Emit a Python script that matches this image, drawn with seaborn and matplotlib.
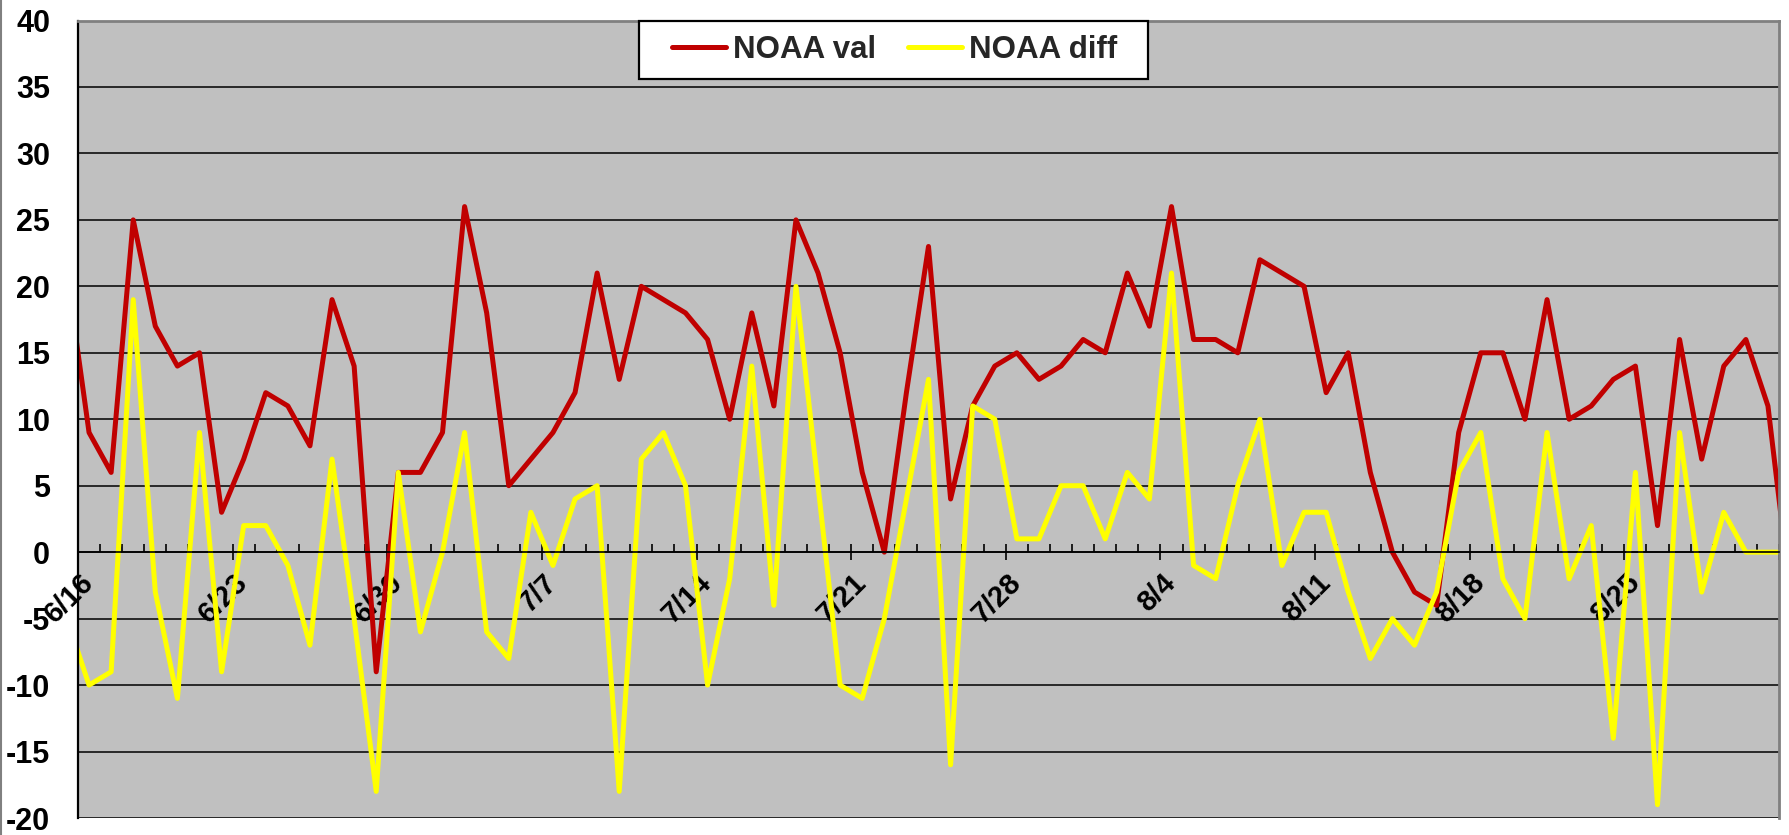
import numpy as np
import pandas as pd
import matplotlib
matplotlib.use("Agg")
import matplotlib.pyplot as plt
from matplotlib.lines import Line2D
from matplotlib.legend_handler import HandlerLine2D
import seaborn as sns

# Daily readings, 6/15 through 9/1 (the first and last days fall just outside the axis)
first_day = "2008-06-15"
axis_start = "2008-06-16"
noaa_val = [21, 9, 6, 25, 17, 14, 15, 3, 7, 12, 11, 8, 19, 14, -9, 6, 6, 9,
            26, 18, 5, 7, 9, 12, 21, 13, 20, 19, 18, 16, 10, 18, 11, 25, 21, 15,
            6, 0, 12, 23, 4, 11, 14, 15, 13, 14, 16, 15, 21, 17, 26, 16, 16, 15,
            22, 21, 20, 12, 15, 6, 0, -3, -4, 9, 15, 15, 10, 19, 10, 11, 13, 14,
            2, 16, 7, 14, 16, 11, -3]
noaa_diff = [-5, -10, -9, 19, -3, -11, 9, -9, 2, 2, -1, -7, 7, -5, -18, 6, -6, 0,
             9, -6, -8, 3, -1, 4, 5, -18, 7, 9, 5, -10, -2, 14, -4, 20, 5, -10,
             -11, -5, 4, 13, -16, 11, 10, 1, 1, 5, 5, 1, 6, 4, 21, -1, -2, 5,
             10, -1, 3, 3, -3, -8, -5, -7, -3, 6, 9, -2, -5, 9, -2, 2, -14, 6,
             -19, 9, -3, 3, 0, 0, 0]
series_names = ["NOAA val", "NOAA diff"]
series_colors = ["#C00000", "#FFFF00"]
week_labels = ["6/16", "6/23", "6/30", "7/7", "7/14", "7/21", "7/28",
               "8/4", "8/11", "8/18", "8/25"]
y_ticks = list(range(-20, 45, 5))

# Day offsets from the first day shown on the axis
dates = pd.date_range(first_day, periods=len(noaa_val), freq="D")
day = np.asarray((dates - pd.Timestamp(axis_start)).days)
n = len(day)
df = pd.DataFrame({
    "day": np.concatenate([day, day]),
    "value": noaa_val + noaa_diff,
    "series": [series_names[0]] * n + [series_names[1]] * n,
})
n_shown = int((pd.Timestamp(dates[-1]) - pd.Timestamp(axis_start)).days)  # 77 days on the axis

sns.set_theme(style="white")
plt.rcParams["font.family"] = ["Liberation Sans", "DejaVu Sans"]

W, H = 1790, 835
fig = plt.figure(figsize=(W / 100, H / 100), dpi=100)
fig.patch.set_facecolor("white")
ax = fig.add_axes([78 / W, 17 / H, (1779 - 78) / W, (818 - 20.5) / H])
ax.set_facecolor("#C0C0C0")

sns.lineplot(data=df, x="day", y="value", hue="series", hue_order=series_names,
             palette=dict(zip(series_names, series_colors)), linewidth=3.6,
             estimator=None, sort=False, legend=False, ax=ax)

ax.set_xlim(-0.5, n_shown - 0.5)
ax.set_ylim(-20, 40)
ax.set_xlabel("")
ax.set_ylabel("")

# Value axis
ax.set_yticks(y_ticks, labels=[str(v) for v in y_ticks])
ax.tick_params(axis="y", direction="out", length=7.5, width=1.2, pad=12.5,
               labelsize=22, colors="black")
for lab in ax.get_yticklabels():
    lab.set_fontweight("bold")
ax.yaxis.grid(True, color="black", linewidth=1.1)
ax.xaxis.grid(False)
ax.set_axisbelow(True)

# Date axis crosses at zero: weekly long ticks and daily short ticks at day boundaries
boundaries = np.arange(-0.5, n_shown, 1.0)
ax.set_xticks(boundaries[::7])
ax.set_xticks(boundaries, minor=True)
ax.tick_params(axis="x", which="major", direction="inout", length=11, width=1.2,
               colors="black", labelbottom=False, bottom=True)
ax.tick_params(axis="x", which="minor", direction="in", length=6, width=1.2,
               colors="black", bottom=True)
ax.spines["bottom"].set_position(("data", 0))
ax.spines["bottom"].set_color("black")
ax.spines["bottom"].set_linewidth(1.2)
ax.spines["left"].set_color("black")
ax.spines["left"].set_linewidth(1.6)
for side in ("top", "right"):
    ax.spines[side].set_color("#808080")
    ax.spines[side].set_linewidth(2)

# Weekly date labels, centred on their day and hung below the zero line
sec = ax.secondary_xaxis(20 / 60)
sec.set_xticks(np.arange(0, n_shown, 7), labels=week_labels)
sec.tick_params(axis="x", length=0, pad=19, labelsize=21, colors="black")
sec.spines["bottom"].set_visible(False)
for lab in sec.get_xticklabels():
    lab.set_rotation(45)
    lab.set_ha("right")
    lab.set_va("center")
    lab.set_rotation_mode("anchor")
    lab.set_fontweight("bold")

# Legend across the top band of the plot
handles = [Line2D([], [], color=c, linewidth=3.6) for c in series_colors]
leg = ax.legend(handles, [series_names[0], series_names[1] + "  "], ncol=2,
                loc="upper left",
                bbox_to_anchor=(639 / W, 1 - 21 / H), bbox_transform=fig.transFigure,
                frameon=True, fancybox=False, framealpha=1, facecolor="white",
                edgecolor="black", prop={"weight": "bold", "size": 22.5},
                handlelength=2.35, handletextpad=0.2, columnspacing=0.42,
                borderpad=0.45, borderaxespad=0,
                handler_map={Line2D: HandlerLine2D(xpad=0.62)})
leg.get_frame().set_linewidth(1.6)

# Thin chart-area border on the left edge
fig.add_artist(Line2D([0.8 / W, 0.8 / W], [0, 1], transform=fig.transFigure,
                      color="#808080", linewidth=1.5))

fig.savefig("out.png", dpi=100, facecolor="white")
